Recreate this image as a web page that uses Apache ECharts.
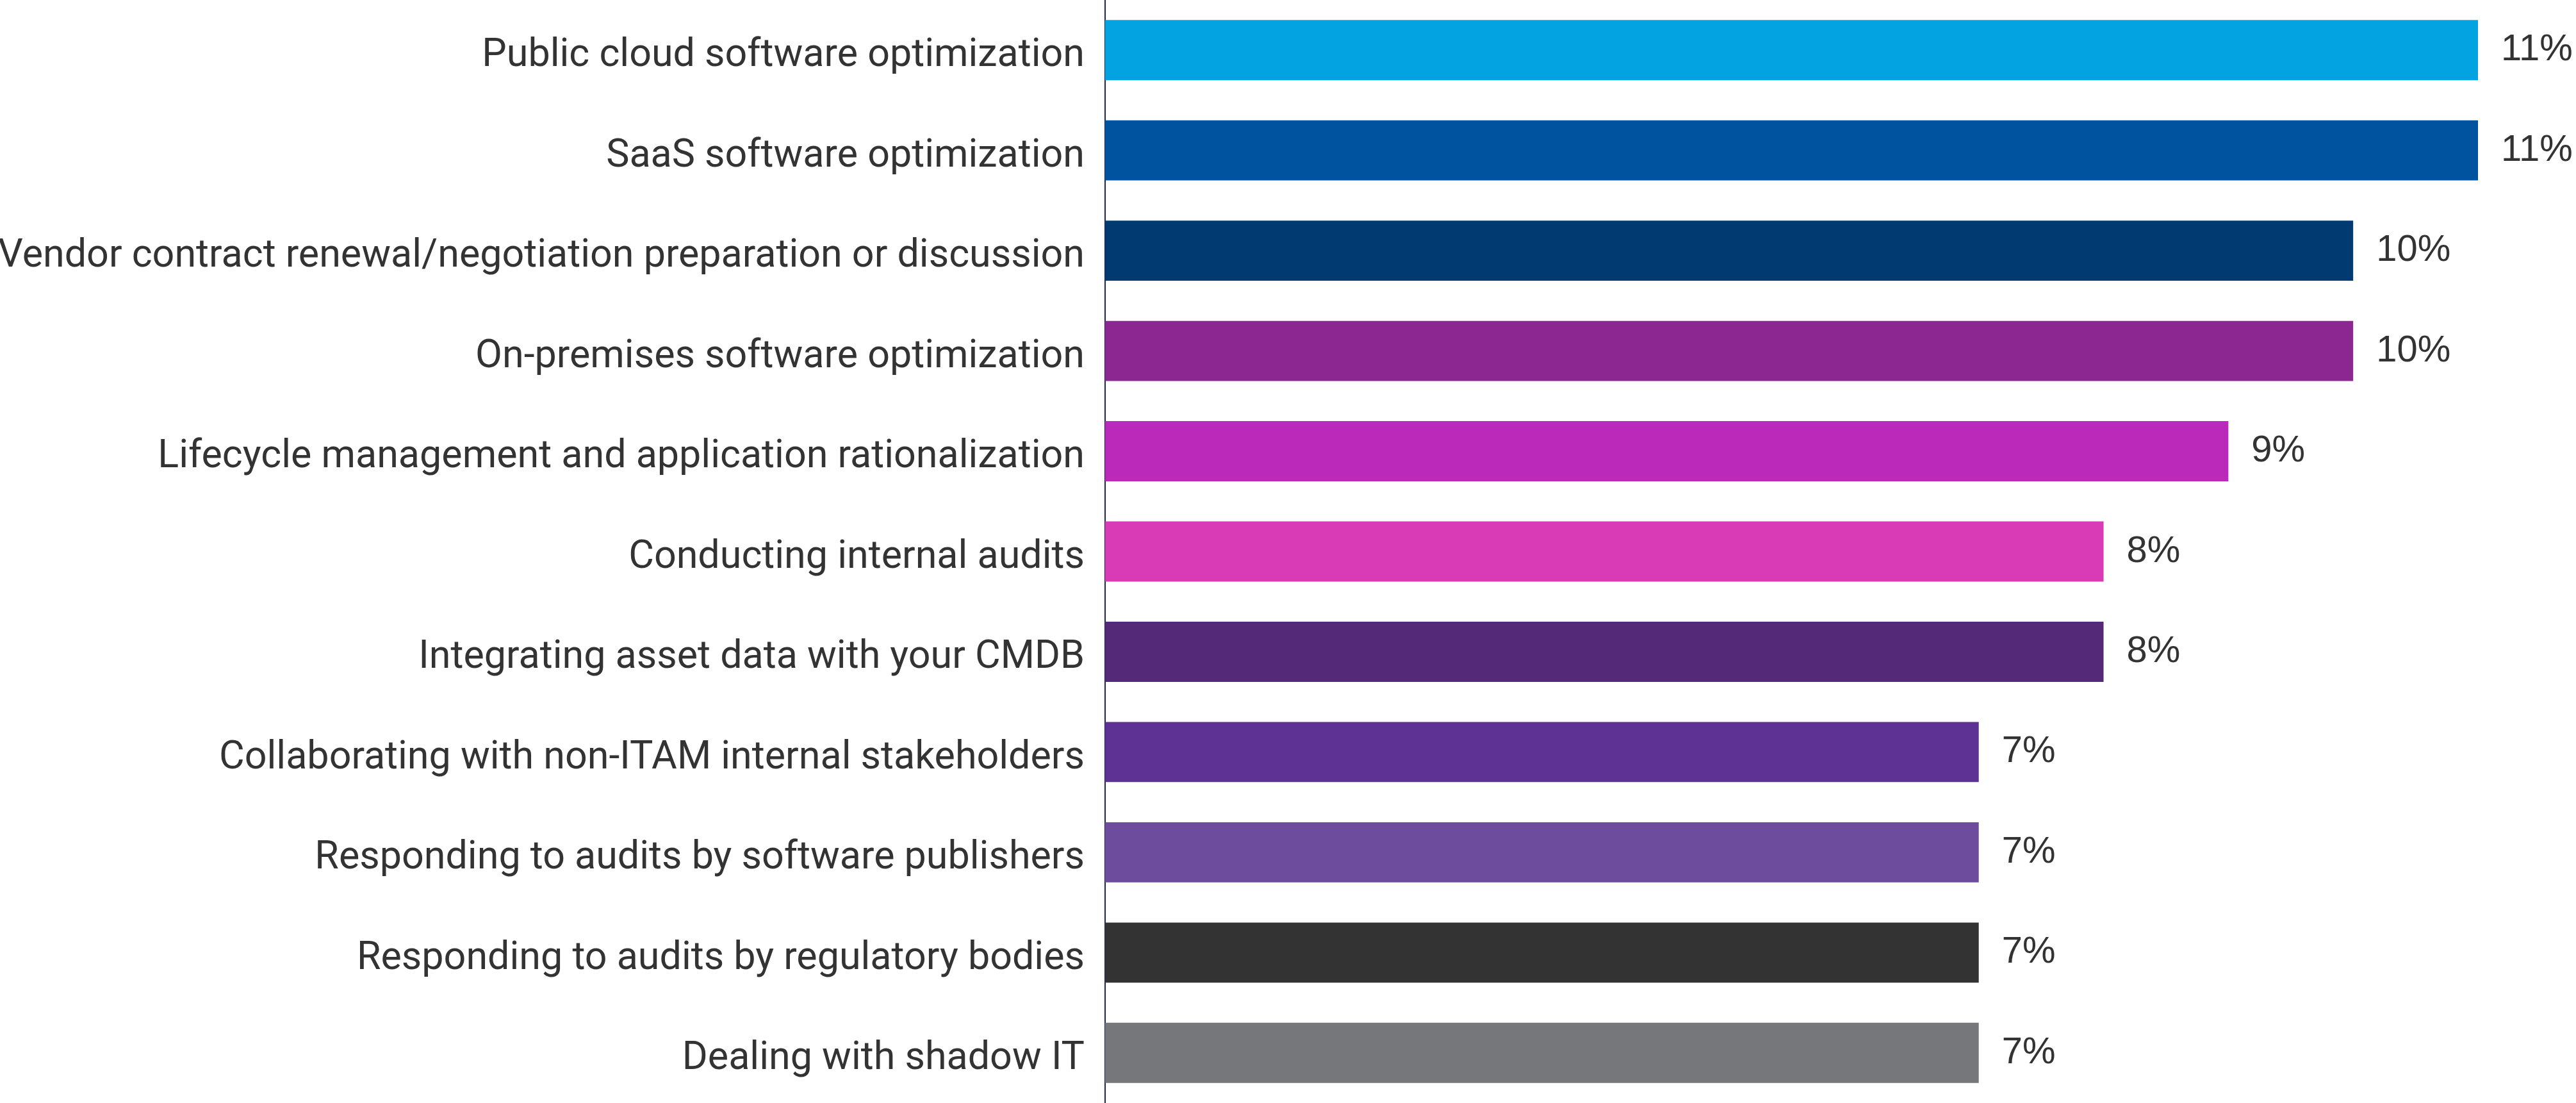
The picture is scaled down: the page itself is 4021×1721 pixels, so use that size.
<!DOCTYPE html>
<html lang="en">
<head>
    <meta charset="UTF-8">
    <title>ITAM activities</title>
    <script src="https://cdn.jsdelivr.net/npm/echarts/dist/echarts.min.js"></script>
    <style>
        html, body {
            margin: 0;
            padding: 0;
            background-color: #ffffff;
            overflow: hidden;
        }
        #chart {
            width: 4021px;
            height: 1721px;
        }
    </style>
</head>
<body>
    <div id="chart"></div>
    <script>
        // Chart data
        var categories = [
            'Public cloud software optimization',
            'SaaS software optimization',
            'Vendor contract renewal/negotiation preparation or discussion',
            'On-premises software optimization',
            'Lifecycle management and application rationalization',
            'Conducting internal audits',
            'Integrating asset data with your CMDB',
            'Collaborating with non-ITAM internal stakeholders',
            'Responding to audits by software publishers',
            'Responding to audits by regulatory bodies',
            'Dealing with shadow IT'
        ];
        var values = [11, 11, 10, 10, 9, 8, 8, 7, 7, 7, 7];
        var barColors = [
            '#03a2e1', '#00549f', '#003a70', '#8c2690', '#bb29bb', '#d93ab5',
            '#542a78', '#5e3294', '#6d4c9e', '#333333', '#76777a'
        ];

        var chart = echarts.init(document.getElementById('chart'));

        var option = {
            animation: false,
            grid: {
                left: 1725,
                right: 153,
                top: 0,
                bottom: 0,
                containLabel: false,
                outerBoundsMode: 'none'
            },
            xAxis: {
                type: 'value',
                min: 0,
                max: 11,
                show: false
            },
            yAxis: {
                type: 'category',
                inverse: true,
                data: categories,
                axisLine: {
                    show: true,
                    lineStyle: { color: '#1d2b4b', width: 2 }
                },
                axisTick: { show: false },
                axisLabel: {
                    margin: 32,
                    color: '#333333',
                    formatter: function (name) {
                        return '{a|' + name + '}';
                    },
                    rich: {
                        a: {
                            fontFamily: 'Roboto',
                            fontSize: 61,
                            color: '#333333',
                            padding: [20, 0, 0, 0]
                        }
                    }
                }
            },
            series: [{
                type: 'bar',
                barCategoryGap: '40%',
                data: values.map(function (v, i) {
                    return { value: v, itemStyle: { color: barColors[i] } };
                }),
                label: {
                    show: true,
                    position: 'right',
                    distance: 36,
                    fontFamily: 'Liberation Sans',
                    fontSize: 58,
                    color: '#333333',
                    formatter: '{c}%'
                }
            }]
        };

        chart.setOption(option);
    </script>
</body>
</html>
